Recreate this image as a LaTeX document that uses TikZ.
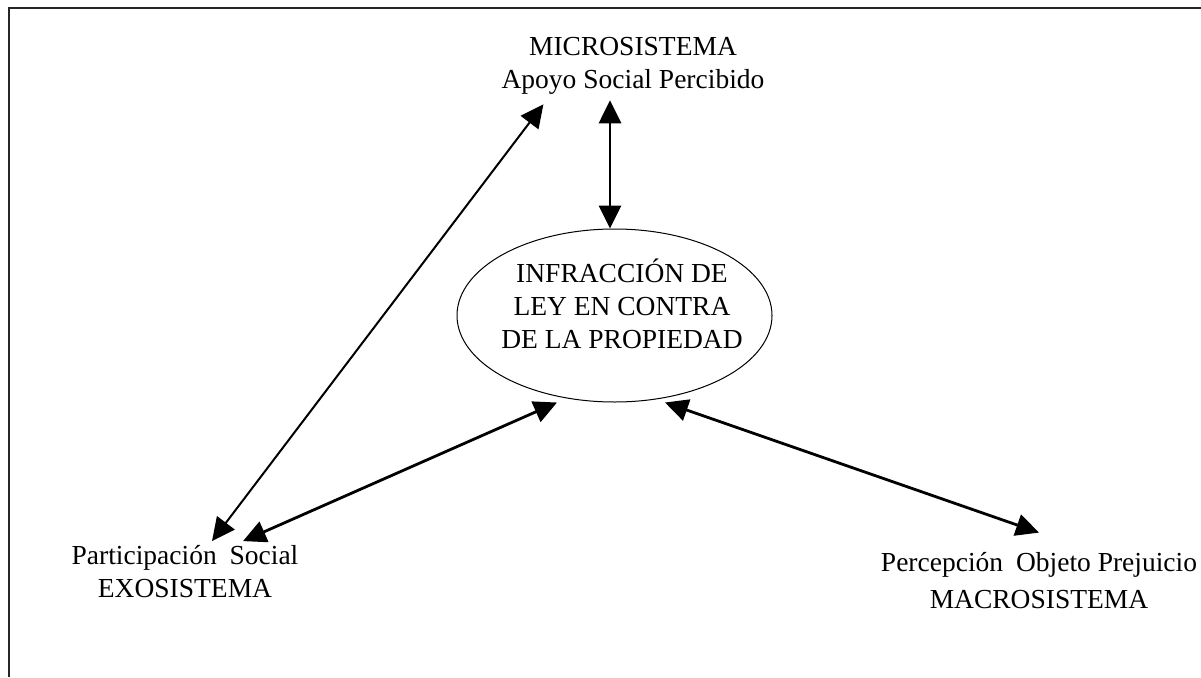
\documentclass[tikz,border=0pt]{standalone}
\usepackage{fontspec}
\setmainfont{Liberation Serif}
\usetikzlibrary{arrows.meta,shapes.geometric,positioning}

\begin{document}
\begin{tikzpicture}[x=1pt,y=-1pt,
    texto/.style={align=center,inner sep=0pt,font=\fontsize{27.5}{33}\selectfont},
    elipse/.style={ellipse,draw,line width=1pt,minimum width=315pt,minimum height=173pt,inner sep=0pt},
    flecha/.style={{Triangle[length=23pt,width=22pt]}-{Triangle[length=23pt,width=22pt]},line width=2.8pt},
    flechafina/.style={flecha,line width=2pt}]
    %marco
    \useasboundingbox (0,0) rectangle (1201,677);
    \draw[line width=1.6pt,black!85] (1201,8) -- (9,8) -- (9,677);
    %nodos
    \node[elipse] (ley) at (614.5,315.5) {};
    \node[texto] (leytxt) at ([xshift=7.5pt,yshift=12pt]ley.center) {INFRACCIÓN DE\\LEY EN CONTRA\\DE LA PROPIEDAD};
    \node[texto] (micro) at (633,65.5) {MICROSISTEMA\\Apoyo Social Percibido};
    \node[texto] (exo) at (185,571.5) {Participación\hspace{6pt} Social\\EXOSISTEMA};
    \node[texto,font=\fontsize{27.5}{37}\selectfont] (macro) at (1039,581) {Percepción\hspace{6pt} Objeto Prejuicio\\MACROSISTEMA};
    %flechas
    \draw[flecha] ([xshift=-4.5pt]ley.north) -- ([xshift=-4.5pt,yshift=-6pt]micro.south -| ley.north);
    \draw[flechafina] ([xshift=27pt,yshift=4pt]exo.north) -- ([xshift=42pt,yshift=-10pt]micro.south west);
    \draw[flecha] ([xshift=58pt,yshift=4pt]exo.north) -- ([xshift=-57.5pt]ley.south);
    \draw[flecha] ([xshift=50.5pt]ley.south) -- ([yshift=20pt]macro.north);
\end{tikzpicture}
\end{document}
